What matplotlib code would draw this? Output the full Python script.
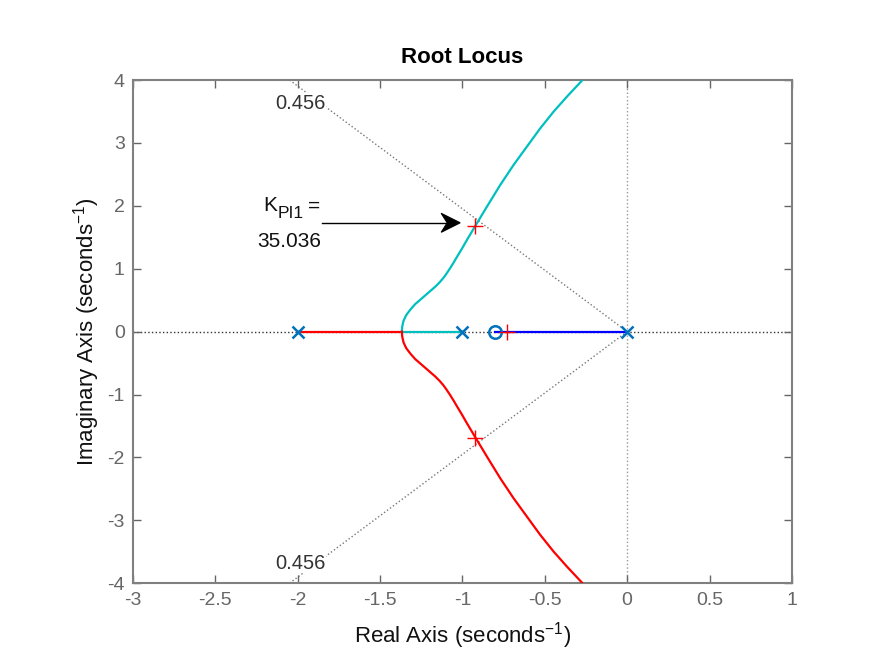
import matplotlib
matplotlib.use("Agg")
import matplotlib.pyplot as plt
from matplotlib.patches import Polygon
import numpy as np

plt.rcParams['font.family'] = ['Liberation Sans', 'DejaVu Sans']
plt.rcParams['mathtext.fontset'] = 'custom'
plt.rcParams['mathtext.rm'] = 'Liberation Sans'
plt.rcParams['mathtext.it'] = 'Liberation Sans'

# Open-loop poles and zero
pole_re = [-2.0, -1.0, 0.0]
zero_re = [-0.8]
breakaway = -1.3677

# Complex branch (upper half); lower branch is its mirror image
branch_re = [-1.3677, -1.3657, -1.3576, -1.3414, -1.3171, -1.2868, -1.2564, -1.2261,
             -1.1958, -1.1654, -1.1391, -1.1148, -1.0946, -1.0744, -1.0541, -1.0339,
             -1.0035, -0.9732, -0.9226, -0.8518, -0.7709, -0.690, -0.609, -0.528,
             -0.447, -0.366, -0.275]
branch_im = [0.0, 0.077, 0.172, 0.262, 0.347, 0.437, 0.506, 0.575,
             0.644, 0.713, 0.782, 0.856, 0.930, 1.010, 1.095, 1.185,
             1.317, 1.455, 1.678, 1.985, 2.330, 2.648, 2.940, 3.231,
             3.496, 3.735, 3.989]

# Closed-loop poles at selected gain
sel_re = [-0.923, -0.923, -0.728]
sel_im = [1.685, -1.685, 0.0]
gain_text = "35.036"
zeta = 0.456

fig = plt.figure(figsize=(8.75, 6.56), dpi=100)
ax = fig.add_axes([0.152, 0.111, 0.753, 0.767])

grey = '#666666'
# axes dotted lines
ax.plot([-3, 1], [0, 0], ':', color='#333333', lw=1.0, zorder=1)
ax.plot([0, 0], [-4, 4], ':', color='#999999', lw=1.0, zorder=1)
# damping lines
wd = np.sqrt(1 - zeta**2) / zeta
L = 4.0 / wd
ax.plot([0, -L], [0, 4], ':', color='#777777', lw=1.0, zorder=1)
ax.plot([0, -L], [0, -4], ':', color='#777777', lw=1.0, zorder=1)

# real-axis branches
ax.plot([pole_re[0], breakaway], [0, 0], color='#FF0000', lw=1.6, zorder=3)
ax.plot([pole_re[1], breakaway], [0, 0], color='#00BFBF', lw=1.6, zorder=3)
ax.plot([pole_re[2], zero_re[0]], [0, 0], color='#0000FF', lw=1.6, zorder=3)
# complex branches
ax.plot(branch_re, branch_im, color='#00BFBF', lw=1.6, zorder=3, solid_joinstyle='round')
ax.plot(branch_re, [-v for v in branch_im], color='#FF0000', lw=1.6, zorder=3, solid_joinstyle='round')

# poles and zero
ax.plot(pole_re, [0] * len(pole_re), 'x', color='#0072BD', ms=8, mew=1.8, zorder=5)
ax.plot(zero_re, [0], 'o', mfc='none', color='#0072BD', ms=9, mew=1.8, zorder=5)
# selected points
ax.plot(sel_re, sel_im, '+', color='#FF0000', ms=11, mew=1.0, zorder=6)

# damping labels
ax.text(-1.985, 3.63, '0.456', fontsize=14.5, color='#333333', ha='center', va='center', zorder=4,
        bbox=dict(facecolor='white', edgecolor='none', pad=0.5))
ax.text(-1.985, -3.68, '0.456', fontsize=14.5, color='#333333', ha='center', va='center', zorder=4,
        bbox=dict(facecolor='white', edgecolor='none', pad=0.5))

# annotation arrow (concave head)
sx, sy = 164.75, 62.875  # pixels per data unit
tip_x, tip_y = -1.0137, 1.73
tail_x = -1.853
head = [(tip_x, tip_y),
        (tip_x - 19 / sx, tip_y + 9.5 / sy),
        (tip_x - 13 / sx, tip_y),
        (tip_x - 19 / sx, tip_y - 9.5 / sy)]
ax.plot([tail_x, tip_x - 13 / sx], [tip_y, tip_y], color='black', lw=1.0, zorder=7)
ax.add_patch(Polygon(head, closed=True, facecolor='black', edgecolor='black', lw=0.8, zorder=7))

ax.text(-2.209, 2.004, 'K', fontsize=15, ha='left', va='center', color='#111111')
ax.text(-2.124, 1.877, 'PI1', fontsize=12.5, ha='left', va='center', color='#111111')
ax.text(-1.862, 1.996, '=', fontsize=15, ha='right', va='center', color='#111111')
ax.text(-1.858, 1.44, gain_text, fontsize=15, ha='right', va='center', color='#111111')

ax.set_xlim(-3, 1)
ax.set_ylim(-4, 4)
ax.set_xticks([-3, -2.5, -2, -1.5, -1, -0.5, 0, 0.5, 1])
ax.set_xticklabels(['-3', '-2.5', '-2', '-1.5', '-1', '-0.5', '0', '0.5', '1'])
ax.set_yticks(range(-4, 5))
ax.set_yticklabels([str(v) for v in range(-4, 5)])
ax.tick_params(direction='in', top=True, right=True, length=6, width=1.0,
               colors=grey, labelsize=14, pad=6)
for sp in ax.spines.values():
    sp.set_color('#808080')
    sp.set_linewidth(1.5)

ax.set_title('Root Locus', fontsize=16, fontweight='bold', color='black', pad=12)
ax.set_xlabel(r'Real Axis (seconds$^{\mathregular{-1}}$)', fontsize=16, color='#111111', labelpad=8)
ax.set_ylabel(r'Imaginary Axis (seconds$^{\mathregular{-1}}$)', fontsize=16, color='#111111', labelpad=4)

fig.savefig('out.png', dpi=100)
